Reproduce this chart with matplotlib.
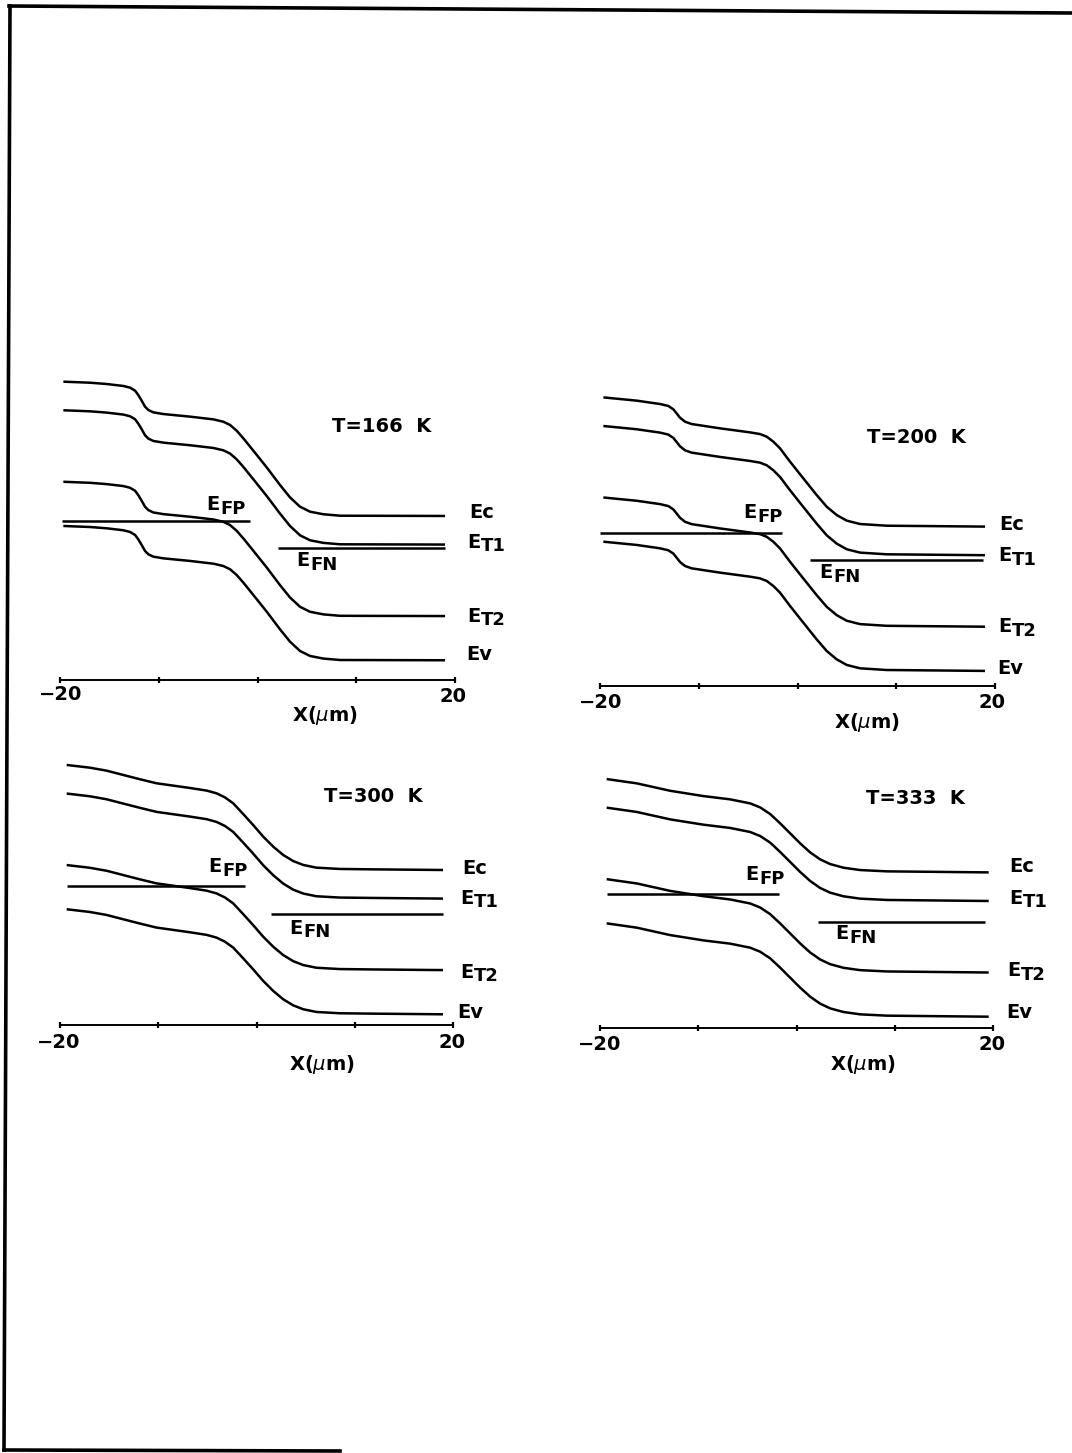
import numpy as np
import matplotlib
matplotlib.use("Agg")
import matplotlib.pyplot as plt
from matplotlib.lines import Line2D

W, H = 1072, 1453
PX_PER_EV = 130.0

plt.rcParams['font.family'] = ['DejaVu Sans']
plt.rcParams['mathtext.fontset'] = 'dejavusans'

# levels below the conduction band edge (eV)
ET1_OFFSET = 0.22
ET2_OFFSET = 0.77
EV_OFFSET = 1.11

temps = ["166", "200", "300", "333"]

# conduction band edge Ec(x), x in um, energy in eV (Ev on the n side = 0)
x_166 = [-19.66, -16.96, -15.27, -13.59, -12.91, -12.40, -12.07, -11.73, -11.39,
         -11.05, -10.55, -9.53, -6.83, -4.47, -3.46, -2.78, -2.11, -1.43, -0.42,
         0.93, 2.28, 3.29, 4.31, 5.32, 6.67, 8.36, 18.99]
ec_166 = [2.141, 2.133, 2.123, 2.108, 2.095, 2.072, 2.038, 1.995, 1.949,
          1.923, 1.905, 1.892, 1.872, 1.851, 1.833, 1.808, 1.764, 1.705, 1.610,
          1.482, 1.346, 1.251, 1.179, 1.141, 1.121, 1.110, 1.108]

x_200 = [-19.66, -16.29, -13.92, -13.08, -12.57, -12.24, -11.90, -11.39, -10.72,
         -7.85, -4.81, -3.80, -3.12, -2.44, -1.77, -0.76, 0.59, 1.94, 2.96,
         3.97, 4.98, 6.33, 9.03, 18.99]
ec_200 = [2.097, 2.072, 2.046, 2.031, 2.005, 1.974, 1.941, 1.910, 1.892,
          1.859, 1.828, 1.815, 1.795, 1.756, 1.705, 1.603, 1.474, 1.346, 1.256,
          1.192, 1.149, 1.123, 1.110, 1.103]

x_300 = [-19.32, -16.95, -15.25, -13.56, -11.86, -10.17, -8.47, -6.78, -5.08,
         -4.07, -3.22, -2.37, -1.36, -0.34, 0.68, 1.70, 2.71, 3.73, 4.75,
         6.10, 8.48, 11.87, 18.98]
ec_300 = [1.918, 1.897, 1.874, 1.841, 1.808, 1.777, 1.759, 1.741, 1.721,
          1.700, 1.669, 1.623, 1.541, 1.456, 1.367, 1.290, 1.226, 1.179, 1.149,
          1.128, 1.118, 1.115, 1.110]

x_333 = [-19.32, -16.26, -12.87, -9.47, -6.76, -4.72, -3.70, -2.68, -1.66,
         -0.64, 0.38, 1.39, 2.41, 3.43, 4.79, 6.49, 9.21, 19.56]
ec_333 = [1.828, 1.795, 1.738, 1.697, 1.672, 1.641, 1.610, 1.559, 1.487,
          1.410, 1.333, 1.264, 1.210, 1.174, 1.146, 1.128, 1.118, 1.110]

# quasi-Fermi levels: level (eV) and x extent (um)
efp_level = [1.073, 1.054, 0.989, 0.941]
efp_span = [(-19.8, -0.8), (-20.0, -1.6), (-19.3, -1.2), (-19.3, -1.8)]
efn_level = [0.859, 0.849, 0.772, 0.731]
efn_span = [(2.1, 19.0), (1.3, 18.8), (1.5, 19.0), (2.2, 19.2)]

profiles = [(x_166, ec_166), (x_200, ec_200), (x_300, ec_300), (x_333, ec_333)]

# panel boxes in pixels: x of -20, x of 20, axis line y, y of zero energy
boxes = [(60, 455, 680, 660.0), (600, 995, 686, 670.0),
         (60, 453, 1025, 1014.3), (600, 993, 1028, 1016.7)]

# text anchors in pixels
label_pos = [
    dict(ec=(482, 513), et1=(474, 542), et2=(474, 616), ev=(479, 654),
         efp=(213, 505), efn=(303, 561), t=(382, 427), xl=(325, 716),
         lo=(61, 695), hi=(453, 697)),
    dict(ec=(1012, 525), et1=(1005, 556), et2=(1005, 627), ev=(1010, 668),
         efp=(750, 513), efn=(826, 573), t=(916, 437), xl=(867, 723),
         lo=(601, 702), hi=(992, 702)),
    dict(ec=(475, 868), et1=(467, 898), et2=(467, 972), ev=(470, 1013),
         efp=(215, 867), efn=(296, 928), t=(373, 796), xl=(322, 1065),
         lo=(59, 1042), hi=(452, 1042)),
    dict(ec=(1022, 867), et1=(1016, 898), et2=(1014, 971), ev=(1019, 1012),
         efp=(752, 875), efn=(842, 934), t=(915, 799), xl=(863, 1065),
         lo=(600, 1044), hi=(992, 1044)),
]

fig = plt.figure(figsize=(W / 100, H / 100), dpi=100)


def fxy(x, y):
    return x / W, 1 - y / H


def put(x, y, s, size=14):
    fx, fy = fxy(x, y)
    fig.text(fx, fy, s, ha="center", va="center", fontsize=size,
             fontweight="bold")


def level_label(x, y, sub):
    put(x, y, "E")
    fx, fy = fxy(x + 7, y + 4)
    fig.text(fx, fy, sub, ha="left", va="center", fontsize=13,
             fontweight="bold")


LW = 1.8
for i, (xs, ec) in enumerate(profiles):
    left, right, y_axis, y_zero = boxes[i]
    y_top = y_axis - 340
    ax = fig.add_axes([left / W, 1 - y_axis / H, (right - left) / W,
                       (y_axis - y_top) / H])
    ax.set_xlim(-20, 20)
    ax.set_ylim((y_zero - y_axis) / PX_PER_EV, (y_zero - y_top) / PX_PER_EV)
    ax.patch.set_visible(False)
    for side in ["top", "left", "right"]:
        ax.spines[side].set_visible(False)
    ax.spines["bottom"].set_linewidth(1.4)
    ax.set_yticks([])
    ax.set_xticks([-20, -10, 0, 10, 20])
    ax.set_xticklabels([])
    ax.tick_params(axis="x", direction="inout", length=4, width=1.6)

    xs = np.array(xs)
    ec = np.array(ec)
    for off in [0.0, ET1_OFFSET, ET2_OFFSET, EV_OFFSET]:
        ax.plot(xs, ec - off, color="black", lw=LW, solid_joinstyle="round",
                solid_capstyle="butt", clip_on=False)
    ax.hlines(efp_level[i], *efp_span[i], color="black", lw=LW, clip_on=False)
    ax.hlines(efn_level[i], *efn_span[i], color="black", lw=LW, clip_on=False)

    lp = label_pos[i]
    put(*lp["ec"], "Ec")
    level_label(*lp["et1"], "T1")
    level_label(*lp["et2"], "T2")
    put(*lp["ev"], "Ev")
    level_label(*lp["efp"], "FP")
    level_label(*lp["efn"], "FN")
    put(*lp["t"], "T=%s  K" % temps[i], size=14)
    put(*lp["xl"], r"X($\mu$m)", size=14)
    put(*lp["lo"], "\u221220", size=14)
    put(*lp["hi"], "20", size=14)

# page frame
frame = [((9, 1072), (6, 13)), ((10, 4), (6, 1450)), ((4, 340), (1450, 1451))]
for xs_px, ys_px in frame:
    fig.add_artist(Line2D([x / W for x in xs_px], [1 - y / H for y in ys_px],
                          color="black", lw=2.6, transform=fig.transFigure))

fig.savefig("out.png", dpi=100, facecolor="white")
